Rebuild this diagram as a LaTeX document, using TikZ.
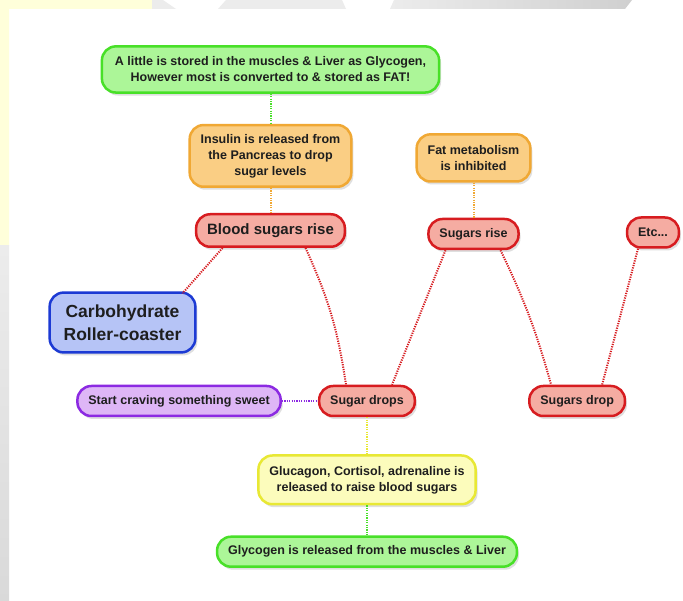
\documentclass[tikz,border=0pt]{standalone}
\usepackage{fontspec}
\setmainfont{Liberation Sans}
\usepackage{tikz}
\usetikzlibrary{positioning, shadows}

\definecolor{inkgrey}{RGB}{30,30,30}
\definecolor{paleyel}{RGB}{255,255,218}
\definecolor{stripgrey}{RGB}{236,236,236}
\definecolor{grnD}{RGB}{72,224,40}
\definecolor{grnL}{RGB}{172,246,152}
\definecolor{orgD}{RGB}{240,168,52}
\definecolor{orgL}{RGB}{250,206,132}
\definecolor{redD}{RGB}{215,28,32}
\definecolor{redL}{RGB}{245,172,162}
\definecolor{bluD}{RGB}{28,58,212}
\definecolor{bluL}{RGB}{182,196,246}
\definecolor{purD}{RGB}{140,42,226}
\definecolor{purL}{RGB}{222,182,246}
\definecolor{yelD}{RGB}{232,232,52}
\definecolor{yelL}{RGB}{252,252,188}

\begin{document}
\begin{tikzpicture}[
    x=1pt, y=-1pt,
    font=\bfseries\fontsize{12.5}{16}\selectfont,
    text=inkgrey,
    box/.style={draw, line width=2.5pt, rounded corners=14pt, align=center,
        inner xsep=11pt, inner ysep=9pt, minimum height=30pt,
        drop shadow={shadow xshift=2pt, shadow yshift=-3pt, opacity=.25}},
    greenbox/.style={box, draw=grnD, fill=grnL},
    orangebox/.style={box, draw=orgD, fill=orgL},
    redbox/.style={box, draw=redD, fill=redL},
    bluebox/.style={box, draw=bluD, fill=bluL, inner xsep=14pt, inner ysep=12pt,
        font=\bfseries\fontsize{17.5}{23}\selectfont},
    purplebox/.style={box, draw=purD, fill=purL},
    yellowbox/.style={box, draw=yelD, fill=yelL},
    big/.style={font=\bfseries\fontsize{15}{18}\selectfont, minimum height=32.5pt},
    link/.style={line width=2pt, dash pattern=on 1.2pt off 1.2pt}
]

% Background
\useasboundingbox (0,0) rectangle (683,601);
\fill[white] (0,0) rectangle (683,601);
\fill[paleyel] (0,0) -- (152,0) -- (152,9) -- (9,9) -- (9,246) -- (0,246) -- cycle;
\shade[top color=stripgrey, bottom color=stripgrey!92!black] (0,246) rectangle (9,601);
\fill[stripgrey] (152,0) -- (163,0) -- (176,9) -- (152,9) -- cycle;
\fill[stripgrey] (226,0) -- (342,0) -- (346,9) -- (218,9) -- cycle;
\shade[left color=stripgrey, middle color=stripgrey, right color=stripgrey!88!black]
    (394,0) -- (632,0) -- (625,9) -- (390,9) -- cycle;

% Nodes
\node[redbox, big] (bsr) at (270.5,230.5) {Blood sugars rise};
\node[orangebox, above=25pt of bsr] (insulin) {Insulin is released from\\the Pancreas to drop\\sugar levels};
\node[greenbox, inner xsep=13pt, inner ysep=10.5pt, above=30pt of insulin] (stored)
    {A little is stored in the muscles \& Liver as Glycogen,\\However most is converted to \& stored as FAT!};

\node[redbox] (rise) at (473.5,234) {Sugars rise};
\node[orangebox, inner ysep=11pt, above=35pt of rise] (fat) {Fat metabolism\\is inhibited};
\node[redbox] (etc) at (653,232.5) {Etc...};

\node[bluebox] (carb) at (122.5,322.5) {Carbohydrate\\Roller-coaster};

\node[redbox] (drops) at (367,401) {Sugar drops};
\node[purplebox, left=36pt of drops] (crave) {Start craving something sweet};
\node[redbox, right=112pt of drops] (drop2) {Sugars drop};
\node[yellowbox, inner ysep=10.5pt, below=37pt of drops] (gluc) {Glucagon, Cortisol, adrenaline is\\released to raise blood sugars};
\node[greenbox, below=30pt of gluc] (glyc) {Glycogen is released from the muscles \& Liver};

% Edges (vertical chains)
\draw[link, grnD] (stored) -- (insulin);
\draw[link, orgD] (insulin) -- (bsr);
\draw[link, orgD] (fat) -- (rise);
\draw[link, yelD] (drops) -- (gluc);
\draw[link, grnD] (gluc) -- (glyc);
\draw[link, purD] (crave) -- (drops);

% Edges (the roller-coaster)
\draw[link, redD] ([xshift=-48pt]bsr.south) -- ([xshift=60pt, yshift=-2pt]carb.north);
\draw[link, redD, bend left=8] ([xshift=35pt]bsr.south) to ([xshift=-21pt]drops.north);
\draw[link, redD] ([xshift=-28pt]rise.south) -- ([xshift=25pt]drops.north);
\draw[link, redD, bend left=5] ([xshift=27pt]rise.south) to ([xshift=-26pt]drop2.north);
\draw[link, redD] ([xshift=-15pt]etc.south) -- ([xshift=25pt]drop2.north);

\end{tikzpicture}
\end{document}
